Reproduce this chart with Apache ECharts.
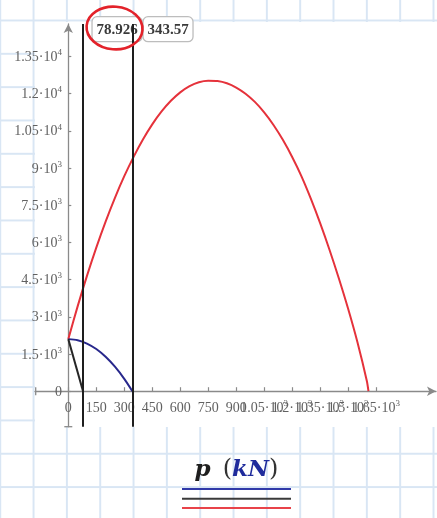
<!DOCTYPE html>
<html>
<head>
<meta charset="utf-8">
<script src="https://cdn.jsdelivr.net/npm/echarts@6/dist/echarts.min.js"></script>
<style>
  html, body { margin: 0; padding: 0; background: #ffffff; }
  #wrap { position: relative; width: 437px; height: 518px; overflow: hidden;
    background-color: #ffffff;
    background-image: linear-gradient(to right, #d9e6f4 0, #d9e6f4 1.5px, transparent 1.5px),
                      linear-gradient(to bottom, #d9e6f4 0, #d9e6f4 1.5px, transparent 1.5px);
    background-size: 33.33px 33.33px;
    background-position: -0.75px 19.5px; }
  #plotbg { position: absolute; left: 35px; top: 22px; width: 402px; height: 405px; background: #ffffff; }
  #chart { position: absolute; left: 0; top: 0; width: 437px; height: 518px; }
</style>
</head>
<body>
<div id="wrap"><div id="plotbg"></div><div id="chart"></div></div>
<script>
// ---- data ----
const xTicks = [0, 150, 300, 450, 600, 750, 900, 1050, 1200, 1350, 1500, 1650, 1800];
const xTickLabels = ["0", "150", "300", "450", "600", "750", "900", "1.05·10³", "1.2·10³", "1.35·10³", "1.5·10³", "1.65·10³", "1.8·10³"];
const yTicks = [0, 1500, 3000, 4500, 6000, 7500, 9000, 10500, 12000, 13500];
const yTickLabels = ["0", "1.5·10³", "3·10³", "4.5·10³", "6·10³", "7.5·10³", "9·10³", "1.05·10⁴", "1.2·10⁴", "1.35·10⁴"];

const redX = [0, 50, 100, 150, 200, 250, 300, 350, 400, 450, 500, 550, 600, 650, 700, 750, 800, 850, 900, 950, 1000, 1050, 1100, 1150, 1200, 1250, 1300, 1350, 1400, 1450, 1500, 1550, 1600, 1609];
const redY = [2100, 3420, 4650, 5790, 6840, 7800, 8670, 9450, 10150, 10760, 11280, 11710, 12050, 12300, 12460, 12520, 12505, 12415, 12245, 11995, 11665, 11245, 10735, 10135, 9445, 8665, 7765, 6775, 5705, 4555, 3325, 1975, 425, 0];

const blueX = [0, 50, 100, 150, 200, 250, 300, 343.57];
const blueY = [2100, 2056, 1922, 1700, 1389, 988, 499, 0];

const blackX = [0, 78.926];
const blackY = [2100, 0];

const cursorX = [78.926, 343.57];
const cursorLabels = ["78.926", "343.57"];

const xLabelText = "p";
const unitText = "kN";

// ---- build chart ----
const pairs = (xs, ys) => xs.map((x, i) => [x, ys[i]]);
const supMap = { "³": "3", "⁴": "4" };
function richLabel(s) {
  const last = s.slice(-1);
  if (supMap[last]) return "{b|" + s.slice(0, -1) + "}{s|" + supMap[last] + "}";
  return "{b|" + s + "}";
}
const labelColor = "#616161";
const labelRich = {
  b: { fontFamily: "Liberation Serif", fontSize: 14, color: labelColor, lineHeight: 16, verticalAlign: "bottom" },
  s: { fontFamily: "Liberation Serif", fontSize: 9, color: labelColor, lineHeight: 16, verticalAlign: "top" }
};
const xMap = {}; xTicks.forEach((v, i) => xMap[v] = xTickLabels[i]);
const yMap = {}; yTicks.forEach((v, i) => yMap[v] = yTickLabels[i]);

const axisColor = "#8a8a8a";
const X_MIN = -178.5, X_MAX = 1971, Y_MIN = -1431, Y_MAX = 14806;
const chart = echarts.init(document.getElementById("chart"), null, { renderer: "canvas" });
const option = {
  backgroundColor: "transparent",
  animation: false,
  grid: { left: 35, right: 1, top: 24, bottom: 91.3, containLabel: false, outerBoundsMode: "none" },
  xAxis: {
    type: "value", min: X_MIN, max: X_MAX,
    axisLine: { show: true, onZero: true, symbol: ["none", "arrow"], symbolSize: [7, 9], lineStyle: { color: axisColor, width: 1.3 } },
    axisTick: { show: true, inside: true, length: 4, customValues: xTicks, lineStyle: { color: axisColor, width: 1.2 } },
    axisLabel: { show: true, margin: -27.5, customValues: xTicks, hideOverlap: false,
      formatter: v => richLabel(xMap[v] !== undefined ? xMap[v] : String(v)), rich: labelRich },
    splitLine: { show: false }
  },
  yAxis: {
    type: "value", min: Y_MIN, max: Y_MAX,
    axisLine: { show: true, onZero: true, symbol: ["none", "arrow"], symbolSize: [7, 9], lineStyle: { color: axisColor, width: 1.3 } },
    axisTick: { show: true, inside: true, length: 3, customValues: yTicks, lineStyle: { color: axisColor, width: 1.2 } },
    axisLabel: { show: true, margin: -27, customValues: yTicks, hideOverlap: false,
      formatter: v => richLabel(yMap[v] !== undefined ? yMap[v] : String(v)), rich: labelRich },
    splitLine: { show: false }
  },
  series: [
    { type: "line", data: pairs(redX, redY), showSymbol: false, smooth: 0.3,
      lineStyle: { color: "#e5323b", width: 2 }, z: 3 },
    { type: "line", data: pairs(blueX, blueY), showSymbol: false, smooth: 0.3,
      lineStyle: { color: "#28288c", width: 2 }, z: 3 },
    { type: "line", data: pairs(blackX, blackY), showSymbol: false,
      lineStyle: { color: "#262626", width: 2 }, z: 3 },
    { type: "line", data: [], z: 4,
      markLine: { silent: true, symbol: "none", animation: false,
        label: { show: false },
        lineStyle: { color: "#1e1e1e", width: 2, type: "solid" },
        data: cursorX.map(x => ({ xAxis: x })) } }
  ]
};
chart.setOption(option);

// overlay annotations positioned from the axis scales
const c0 = chart.convertToPixel({ gridIndex: 0 }, [cursorX[0], 0]);
const c1 = chart.convertToPixel({ gridIndex: 0 }, [cursorX[1], 0]);
const origin = chart.convertToPixel({ gridIndex: 0 }, [0, 0]);
const yBottom = chart.convertToPixel({ gridIndex: 0 }, [0, Y_MIN]);
const xLeft = chart.convertToPixel({ gridIndex: 0 }, [X_MIN, 0]);
const boxW = 50, boxH = 25, boxTop = 16.7;
const box0L = c0[0] + 9;
const box1L = Math.max(c1[0] + 10.5, box0L + boxW + 1);
function cursorBox(left, text) {
  return [
    { type: "rect", shape: { x: left, y: boxTop, width: boxW, height: boxH, r: 5 },
      style: { fill: "#ffffff", stroke: "#bdbdbd", lineWidth: 1.3 }, z: 1 },
    { type: "text", x: left + boxW / 2, y: boxTop + boxH / 2 + 0.5,
      style: { text: text, fill: "#3a3a3a", font: "bold 15px 'Liberation Serif'", align: "center", verticalAlign: "middle" }, z: 1 }
  ];
}
const lx0 = 182, lx1 = 291;
chart.setOption({
  graphic: [
    // end caps of the axis lines
    { type: "line", shape: { x1: yBottom[0] - 4, y1: yBottom[1], x2: yBottom[0] + 4, y2: yBottom[1] }, style: { stroke: axisColor, lineWidth: 1.3 } },
    { type: "line", shape: { x1: xLeft[0] + 0.7, y1: origin[1] - 4, x2: xLeft[0] + 0.7, y2: origin[1] + 4 }, style: { stroke: axisColor, lineWidth: 1.3 } },
    ...cursorBox(box0L, cursorLabels[0]),
    ...cursorBox(box1L, cursorLabels[1]),
    { type: "ellipse", shape: { cx: box0L + 22.5, cy: 28, rx: 28, ry: 21.3 }, rotation: -0.08,
      originX: box0L + 22.5, originY: 28,
      style: { fill: "none", stroke: "#e3222a", lineWidth: 2.6 }, z: 10 },
    { type: "text", x: 236.5, y: 470,
      style: { text: "{p|" + xLabelText + "}{sp| }{par|(}{k|" + unitText + "}{par|)}",
        align: "center", verticalAlign: "middle",
        rich: {
          p: { fontFamily: "DejaVu Serif", fontStyle: "italic", fontWeight: "bold", fontSize: 23, fill: "#1e1e1e" },
          sp: { fontFamily: "DejaVu Serif", fontSize: 23, width: 12 },
          par: { fontFamily: "DejaVu Serif", fontSize: 24, fill: "#333333" },
          k: { fontFamily: "DejaVu Serif", fontStyle: "italic", fontWeight: "bold", fontSize: 23, fill: "#1f2b9c" }
        } } },
    { type: "line", shape: { x1: lx0, y1: 489, x2: lx1, y2: 489 }, style: { stroke: "#3039a8", lineWidth: 2 } },
    { type: "line", shape: { x1: lx0, y1: 498.7, x2: lx1, y2: 498.7 }, style: { stroke: "#3a3a3a", lineWidth: 2 } },
    { type: "line", shape: { x1: lx0, y1: 508, x2: lx1, y2: 508 }, style: { stroke: "#e8434a", lineWidth: 2 } }
  ]
});
</script>
</body>
</html>
